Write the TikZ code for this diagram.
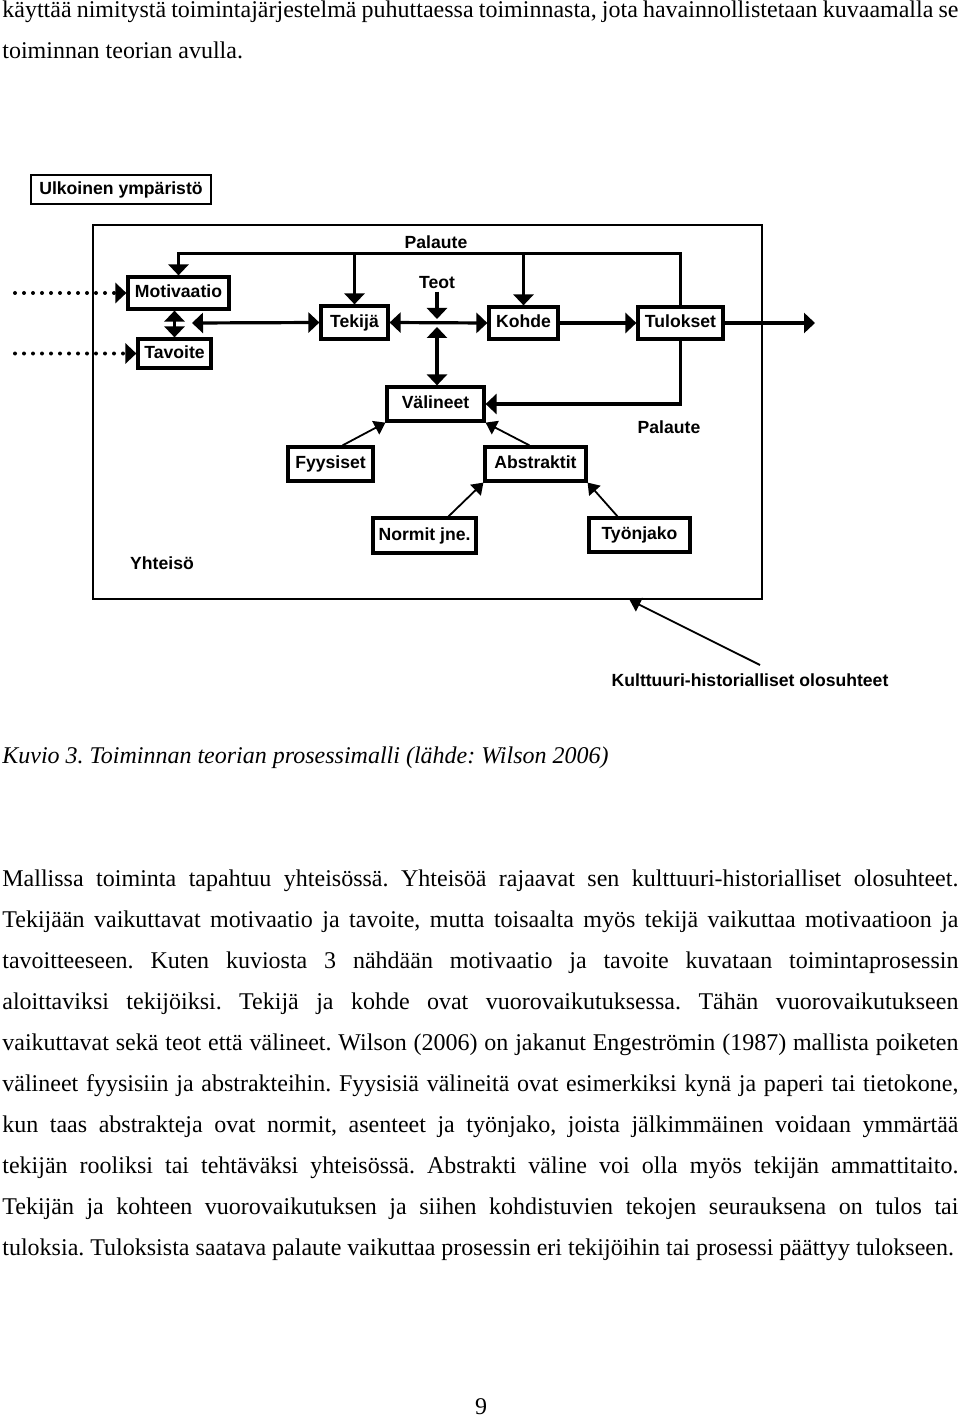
\documentclass[tikz,border=0pt]{standalone}
\usepackage{fontspec}
\setmainfont{Liberation Serif}
\newfontfamily\diafont{Liberation Sans}
\usetikzlibrary{arrows.meta}

\tikzset{
  blk/.style={draw, line width=1.6pt, inner sep=0pt, text height=6.6pt, text depth=1.9pt, font=\diafont\bfseries\fontsize{8.8pt}{10pt}\selectfont},
  lbl/.style={inner sep=1pt, font=\diafont\bfseries\fontsize{8.8pt}{10pt}\selectfont},
  con/.style={line width=1.6pt, -{Triangle[length=5.5pt,width=10pt]}},
  dcon/.style={line width=1.6pt, {Triangle[length=5.5pt,width=10pt]}-{Triangle[length=5.5pt,width=10pt]}},
  tcon/.style={line width=0.9pt, -{Triangle[length=5.5pt,width=7.5pt]}},
  dots/.style={line width=2pt, line cap=round, dash pattern=on 0pt off 4.5pt, -{Triangle[length=5.5pt,width=10pt]}},
  body/.style={anchor=base west, inner sep=0pt, font=\frenchspacing\fontsize{12pt}{20.5pt}\selectfont}
}

\begin{document}
\begin{tikzpicture}[x=0.5pt, y=-0.5pt]
\useasboundingbox (0,0) rectangle (960,1417);

\node[body] (top) at (2,18) {\parbox[t]{478pt}{\hyphenpenalty=10000 \tolerance=10000
käyttää nimitystä toimintajärjestelmä puhuttaessa toiminnasta, jota havainnollistetaan kuvaamalla se\linebreak
toiminnan teorian avulla.}};

\node[blk, line width=1.1pt, minimum width=90pt, minimum height=14.5pt] (ulk) at (121,189.5) {Ulkoinen ympäristö};
\node[draw, line width=0.8pt, minimum width=334.5pt, minimum height=187pt, inner sep=0pt] (yht) at (427.5,412) {};
\node[blk, minimum width=50.5pt, minimum height=16pt] (mot) at (178.5,293) {Motivaatio};
\node[blk, minimum width=36.5pt, minimum height=14.5pt] (tav) at (174.5,353.5) {Tavoite};
\node[blk, minimum width=33.5pt, minimum height=16.5pt] (tek) at (354.5,322.5) {Tekijä};
\node[blk, minimum width=34.5pt, minimum height=16pt] (koh) at (523.5,323) {Kohde};
\node[blk, minimum width=42.5pt, minimum height=16pt] (tul) at (680.5,323) {Tulokset};
\node[blk, minimum width=48.5pt, minimum height=17pt] (val) at (435.5,404) {Välineet};
\node[blk, minimum width=42.5pt, minimum height=17pt] (fyy) at (330.5,464) {Fyysiset};
\node[blk, minimum width=50.5pt, minimum height=17pt] (abs) at (535.5,464) {Abstraktit};
\node[blk, minimum width=51.5pt, minimum height=17.5pt] (nor) at (424.5,535.5) {Normit jne.};
\node[blk, minimum width=50.5pt, minimum height=17pt] (tyo) at (639.5,535) {Työnjako};

\node[lbl] (pal1) at (436,242) {Palaute};
\node[lbl] (pal2) at (669,427) {Palaute};
\node[lbl] (teot) at (437,283) {Teot};
\node[lbl] (yhtl) at (162,563) {Yhteisö};
\node[lbl] (kult) at (750,680) {Kulttuuri-historialliset olosuhteet};

\coordinate (d1) at (15,293);
\coordinate (d2) at (15,353.5);
\coordinate (mtj) at (192,323);
\coordinate (jn) at (437,323);
\coordinate (out) at (815,323);
\coordinate (kh) at (760,665);

\draw[con] (tul.north) -- ++(0,-52) coordinate (fb) -| (mot.north);
\draw[con] (tek.north |- fb) -- (tek.north);
\draw[con] (koh.north |- fb) -- (koh.north);
\draw[dcon] (tav.north |- mot.south) -- (tav.north);
\draw[dcon] (mtj) -- (tek.west);
\draw[dots] (d1) -- (mot.west);
\draw[dots] (d2) -- (tav.west);
\draw[con] (teot) -- ([yshift=2pt]jn);
\draw[dcon] (tek.east) -- (koh.west);
\draw[dcon] ([yshift=-2pt]jn) -- (jn |- val.north);
\draw[con] (koh) -- (tul);
\draw[con] (tul) -- (out);
\draw[con] (tul.south) |- (val.east);
\draw[tcon] ([xshift=6pt]fyy.north) -- (val.south west);
\draw[tcon] ([xshift=-3pt]abs.north) -- (val.south east);
\draw[tcon] ([xshift=12pt]nor.north) -- (abs.south west);
\draw[tcon] ([xshift=-11pt]tyo.north) -- (abs.south east);
\draw[tcon] (kh) -- ([xshift=101pt]yht.south);

\node[body, font=\frenchspacing\itshape\fontsize{12pt}{20.5pt}\selectfont] (cap) at (2,763) {Kuvio 3. Toiminnan teorian prosessimalli (lähde: Wilson 2006)};

\node[body] (par) at (2,886) {\parbox[t]{478pt}{\hyphenpenalty=10000 \tolerance=10000
Mallissa toiminta tapahtuu yhteisössä. Yhteisöä rajaavat sen kulttuuri-historialliset olosuhteet.\linebreak
Tekijään vaikuttavat motivaatio ja tavoite, mutta toisaalta myös tekijä vaikuttaa motivaatioon ja\linebreak
tavoitteeseen. Kuten kuviosta 3 nähdään motivaatio ja tavoite kuvataan toimintaprosessin\linebreak
aloittaviksi tekijöiksi. Tekijä ja kohde ovat vuorovaikutuksessa. Tähän vuorovaikutukseen\linebreak
vaikuttavat sekä teot että välineet. Wilson (2006) on jakanut Engeströmin (1987) mallista poiketen\linebreak
välineet fyysisiin ja abstrakteihin. Fyysisiä välineitä ovat esimerkiksi kynä ja paperi tai tietokone,\linebreak
kun taas abstrakteja ovat normit, asenteet ja työnjako, joista jälkimmäinen voidaan ymmärtää\linebreak
tekijän rooliksi tai tehtäväksi yhteisössä. Abstrakti väline voi olla myös tekijän ammattitaito.\linebreak
Tekijän ja kohteen vuorovaikutuksen ja siihen kohdistuvien tekojen seurauksena on tulos tai\linebreak
tuloksia. Tuloksista saatava palaute vaikuttaa prosessin eri tekijöihin tai prosessi päättyy tulokseen.}};

\node[body, anchor=base] (pnum) at (481,1414) {9};
\end{tikzpicture}
\end{document}
